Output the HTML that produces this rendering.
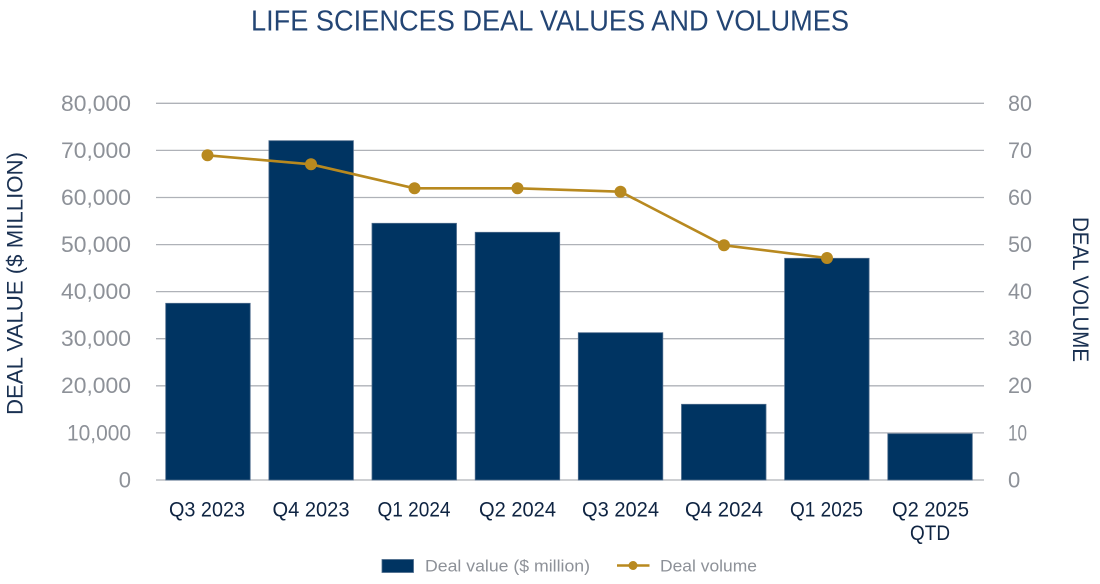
<!DOCTYPE html>
<html><head><meta charset="utf-8"><style>
html,body{margin:0;padding:0;background:#fff;}
svg{display:block;}
text{font-family:"Liberation Sans",sans-serif;}
</style></head><body>
<svg width="1100" height="584" viewBox="0 0 1100 584" xmlns="http://www.w3.org/2000/svg">
<rect width="1100" height="584" fill="#fff"/>
<text x="550" y="30.5" font-size="29" fill="#234574" text-anchor="middle" textLength="598" lengthAdjust="spacingAndGlyphs">LIFE SCIENCES DEAL VALUES AND VOLUMES</text>
<g stroke="#afb2b8" stroke-width="1.3">
<line x1="156" x2="984" y1="103.3" y2="103.3"/>
<line x1="156" x2="984" y1="150.4" y2="150.4"/>
<line x1="156" x2="984" y1="197.5" y2="197.5"/>
<line x1="156" x2="984" y1="244.6" y2="244.6"/>
<line x1="156" x2="984" y1="291.6" y2="291.6"/>
<line x1="156" x2="984" y1="338.7" y2="338.7"/>
<line x1="156" x2="984" y1="385.8" y2="385.8"/>
<line x1="156" x2="984" y1="432.9" y2="432.9"/>
<line x1="156" x2="984" y1="480" y2="480"/>
</g>
<g fill="#8d9198" font-size="22" text-anchor="end">
<text x="131" y="111" textLength="70" lengthAdjust="spacingAndGlyphs">80,000</text>
<text x="131" y="158" textLength="70" lengthAdjust="spacingAndGlyphs">70,000</text>
<text x="131" y="205" textLength="70" lengthAdjust="spacingAndGlyphs">60,000</text>
<text x="131" y="252" textLength="70" lengthAdjust="spacingAndGlyphs">50,000</text>
<text x="131" y="299" textLength="70" lengthAdjust="spacingAndGlyphs">40,000</text>
<text x="131" y="346" textLength="70" lengthAdjust="spacingAndGlyphs">30,000</text>
<text x="131" y="393" textLength="70" lengthAdjust="spacingAndGlyphs">20,000</text>
<text x="131" y="440.5" textLength="64" lengthAdjust="spacingAndGlyphs">10,000</text>
<text x="131" y="487.5">0</text>
</g>
<g fill="#8d9198" font-size="22">
<text x="1008" y="111" textLength="24" lengthAdjust="spacingAndGlyphs">80</text>
<text x="1008" y="158" textLength="24" lengthAdjust="spacingAndGlyphs">70</text>
<text x="1008" y="205" textLength="24" lengthAdjust="spacingAndGlyphs">60</text>
<text x="1008" y="252" textLength="24" lengthAdjust="spacingAndGlyphs">50</text>
<text x="1008" y="299" textLength="24" lengthAdjust="spacingAndGlyphs">40</text>
<text x="1008" y="346" textLength="24" lengthAdjust="spacingAndGlyphs">30</text>
<text x="1008" y="393" textLength="24" lengthAdjust="spacingAndGlyphs">20</text>
<text x="1008" y="440.5" textLength="19" lengthAdjust="spacingAndGlyphs">10</text>
<text x="1008" y="487.5">0</text>
</g>
<text transform="translate(22.5,283.5) rotate(-90)" font-size="22" fill="#1a3152" text-anchor="middle" textLength="263" lengthAdjust="spacingAndGlyphs">DEAL VALUE ($ MILLION)</text>
<text transform="translate(1073,289.5) rotate(90)" font-size="22" fill="#1a3152" text-anchor="middle" textLength="145" lengthAdjust="spacingAndGlyphs">DEAL VOLUME</text>
<g fill="#003462" stroke="#4d6b8c" stroke-width="0.8">
<rect x="165.7" y="303.3" width="84.5" height="176.7"/>
<rect x="268.9" y="140.7" width="84.5" height="339.3"/>
<rect x="372.0" y="223.3" width="84.5" height="256.7"/>
<rect x="475.2" y="232.3" width="84.5" height="247.7"/>
<rect x="578.3" y="332.7" width="84.5" height="147.3"/>
<rect x="681.5" y="404.3" width="84.5" height="75.7"/>
<rect x="784.6" y="258.3" width="84.5" height="221.7"/>
<rect x="887.8" y="433.7" width="84.5" height="46.3"/>
</g>
<polyline fill="none" stroke="#b8891f" stroke-width="2.6" stroke-linejoin="round" points="207.5,155.3 311,164.3 414.5,188.3 517.5,188.3 620.5,191.7 724,245.3 827,258"/>
<g fill="#b8891f">
<circle cx="207.5" cy="155.3" r="6"/>
<circle cx="311" cy="164.3" r="6"/>
<circle cx="414.5" cy="188.3" r="6"/>
<circle cx="517.5" cy="188.3" r="6"/>
<circle cx="620.5" cy="191.7" r="6"/>
<circle cx="724" cy="245.3" r="6"/>
<circle cx="827" cy="258" r="6"/>
</g>
<g fill="#0f2442" font-size="21" text-anchor="middle">
<text x="207" y="516.5" textLength="76" lengthAdjust="spacingAndGlyphs">Q3 2023</text>
<text x="311" y="516.5" textLength="77" lengthAdjust="spacingAndGlyphs">Q4 2023</text>
<text x="414" y="516.5" textLength="73" lengthAdjust="spacingAndGlyphs">Q1 2024</text>
<text x="517.5" y="516.5" textLength="77" lengthAdjust="spacingAndGlyphs">Q2 2024</text>
<text x="620.5" y="516.5" textLength="77" lengthAdjust="spacingAndGlyphs">Q3 2024</text>
<text x="724" y="516.5" textLength="78" lengthAdjust="spacingAndGlyphs">Q4 2024</text>
<text x="826.5" y="516.5" textLength="73" lengthAdjust="spacingAndGlyphs">Q1 2025</text>
<text x="930.5" y="516.5" textLength="77" lengthAdjust="spacingAndGlyphs">Q2 2025</text>
<text x="930" y="540" textLength="40" lengthAdjust="spacingAndGlyphs">QTD</text>
</g>
<rect x="382" y="559.5" width="31.5" height="13" fill="#003462" stroke="#4d6b8c" stroke-width="0.8"/>
<text x="425" y="571.5" font-size="17" fill="#8d9198" textLength="165" lengthAdjust="spacingAndGlyphs">Deal value ($ million)</text>
<line x1="617" x2="649.5" y1="565.5" y2="565.5" stroke="#b8891f" stroke-width="2.6"/>
<circle cx="633" cy="565.5" r="4.5" fill="#b8891f"/>
<text x="660" y="571.5" font-size="17" fill="#8d9198" textLength="97" lengthAdjust="spacingAndGlyphs">Deal volume</text>
</svg>
</body></html>
